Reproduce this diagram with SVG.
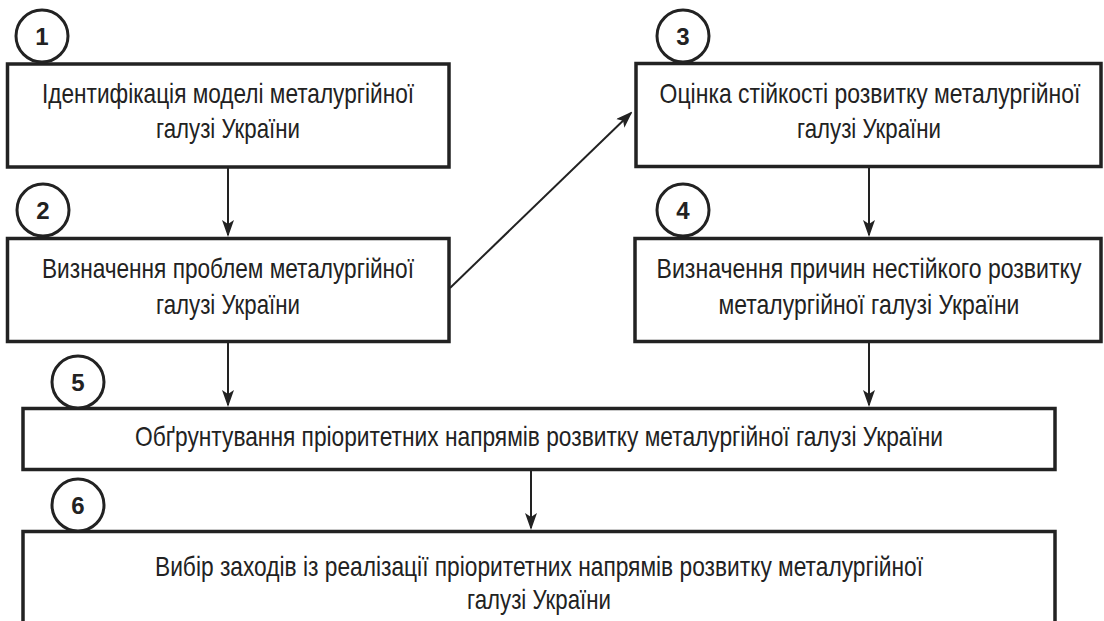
<svg xmlns="http://www.w3.org/2000/svg" width="1104" height="621" viewBox="0 0 1104 621">
<style>
.box{fill:#fff;stroke:#222;stroke-width:3.5}
.circ{fill:#fff;stroke:#222;stroke-width:3}
.t{font-family:"Liberation Sans",Arial,sans-serif;font-size:27px;fill:#222;text-anchor:middle}
.n{font-family:"Liberation Sans",Arial,sans-serif;font-size:24px;font-weight:bold;fill:#222;text-anchor:middle}
.c{stroke:#222;stroke-width:2;fill:none}
</style>
<defs>
<marker id="ah" markerWidth="17" markerHeight="12" refX="15" refY="6" orient="auto" markerUnits="userSpaceOnUse">
<path d="M0,0 L17,6 L0,12 L4,6 Z" fill="#222"/>
</marker>
</defs>
<rect width="1104" height="621" fill="#fff"/>
<g id="connectors">
<line class="c" x1="228" y1="167" x2="228" y2="235" marker-end="url(#ah)"/>
<line class="c" x1="869" y1="167" x2="869" y2="235" marker-end="url(#ah)"/>
<line class="c" x1="228" y1="342" x2="228" y2="405" marker-end="url(#ah)"/>
<line class="c" x1="869" y1="342" x2="869" y2="405" marker-end="url(#ah)"/>
<line class="c" x1="531" y1="470" x2="531" y2="528" marker-end="url(#ah)"/>
<line class="c" x1="450" y1="288" x2="631" y2="113" marker-end="url(#ah)"/>
</g>
<g id="node1">
<rect class="box" x="7.5" y="64" width="441.5" height="103"/>
<circle class="circ" cx="42" cy="36" r="26"/>
<text class="n" x="42" y="45">1</text>
<text class="t" transform="translate(228,103) scale(0.8,1)" textLength="465" lengthAdjust="spacingAndGlyphs">Ідентифікація моделі металургійної</text>
<text class="t" transform="translate(228,138) scale(0.8,1)" textLength="180" lengthAdjust="spacingAndGlyphs">галузі України</text>
</g>
<g id="node2">
<rect class="box" x="7.5" y="238.5" width="441.5" height="103"/>
<circle class="circ" cx="43" cy="210" r="26"/>
<text class="n" x="43" y="219">2</text>
<text class="t" transform="translate(228,278) scale(0.8,1)" textLength="465" lengthAdjust="spacingAndGlyphs">Визначення проблем металургійної</text>
<text class="t" transform="translate(228,314) scale(0.8,1)" textLength="180" lengthAdjust="spacingAndGlyphs">галузі України</text>
</g>
<g id="node3">
<rect class="box" x="636" y="63.5" width="465" height="103"/>
<circle class="circ" cx="683" cy="36" r="26"/>
<text class="n" x="683" y="45">3</text>
<text class="t" transform="translate(870,103) scale(0.8,1)" textLength="526" lengthAdjust="spacingAndGlyphs">Оцінка стійкості розвитку металургійної</text>
<text class="t" transform="translate(869,138) scale(0.8,1)" textLength="180" lengthAdjust="spacingAndGlyphs">галузі України</text>
</g>
<g id="node4">
<rect class="box" x="635" y="238.5" width="466" height="103"/>
<circle class="circ" cx="683" cy="210" r="26"/>
<text class="n" x="683" y="219">4</text>
<text class="t" transform="translate(869,278) scale(0.8,1)" textLength="531" lengthAdjust="spacingAndGlyphs">Визначення причин нестійкого розвитку</text>
<text class="t" transform="translate(869,314) scale(0.8,1)" textLength="376" lengthAdjust="spacingAndGlyphs">металургійної галузі України</text>
</g>
<g id="node5">
<rect class="box" x="23" y="408.5" width="1032" height="61"/>
<circle class="circ" cx="78" cy="382" r="26"/>
<text class="n" x="78" y="391">5</text>
<text class="t" transform="translate(539,446) scale(0.8,1)" textLength="1010" lengthAdjust="spacingAndGlyphs">Обґрунтування пріоритетних напрямів розвитку металургійної галузі України</text>
</g>
<g id="node6">
<rect class="box" x="23" y="531.5" width="1032" height="110"/>
<circle class="circ" cx="78" cy="505" r="26"/>
<text class="n" x="78" y="514">6</text>
<text class="t" transform="translate(539,576) scale(0.8,1)" textLength="960" lengthAdjust="spacingAndGlyphs">Вибір заходів із реалізації пріоритетних напрямів розвитку металургійної</text>
<text class="t" transform="translate(539,609) scale(0.8,1)" textLength="180" lengthAdjust="spacingAndGlyphs">галузі України</text>
</g>
</svg>
